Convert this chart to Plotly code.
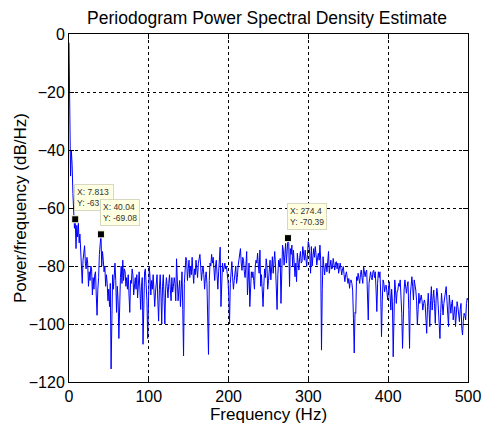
import numpy as np
import plotly.graph_objects as go

fs = 1000.0
nfft = 1024

psd_db = [
    -3, -40, -49, -40, -45, -55, -63, -67, -63.89, -74, -66, -70, -65, -72, -69, -77,
    -84, -86, -78, -75, -73, -79, -81, -77, -79, -87, -82, -85, -80, -81, -90, -84,
    -88, -83, -82, -90, -97, -88, -84, -76, -72, -69.08, -80, -75, -78, -82, -80, -87,
    -83, -86, -92, -88, -94, -86, -115.5, -90, -83, -88, -82, -79, -85, -96, -87, -92,
    -105, -88, -84, -80, -86, -78, -85, -81, -82, -87, -84, -88, -83, -90, -96, -85,
    -86, -81, -83, -90, -86, -84, -88, -83, -91, -85, -82, -88, -95, -87, -84, -107,
    -88, -82, -81, -85, -92, -105, -86, -80, -84, -90, -85, -88, -83, -87, -94, -89,
    -86, -83, -92, -99, -88, -83, -90, -100, -87, -83, -91, -100, -88, -84, -87, -91,
    -86, -83, -88, -92, -84, -89, -87, -84, -86, -92, -77.5, -83, -92, -88, -85, -94,
    -89, -82, -95, -111, -86, -79, -77, -78, -85, -81, -78, -84, -80, -83, -77, -82,
    -86, -81, -83, -78, -81, -84, -79, -77, -76, -80, -85, -82, -80, -83, -88, -84,
    -82, -86, -96, -110.5, -85, -79, -80, -76, -79, -77, -81, -85, -80, -78, -83, -88,
    -82, -76, -73.5, -94, -83, -79, -82, -80, -79, -81, -80, -82.5, -85, -90, -100, -86,
    -80, -78.5, -84, -88, -85, -83, -80, -86, -84, -80, -77.5, -76, -74, -79, -81.5, -77,
    -78, -82, -84, -80, -75, -90, -84, -79, -94, -86, -82, -84, -82, -85, -88, -80,
    -78, -79, -75.6, -80, -82.5, -74.5, -87, -83, -89, -94, -87, -81, -84, -77.5, -80, -88,
    -85, -80, -78, -84.8, -79, -76.8, -82.5, -79, -75, -80, -88, -95, -83, -78, -80, -77.4,
    -92.9, -80, -72.8, -74.5, -79.7, -76, -72.2, -79, -73, -70.39, -72.2, -87.1, -74, -76, -72.8, -80.2,
    -74.5, -78, -83.7, -79, -85.4, -75.6, -78, -81.4, -77, -75, -79, -78.5, -73.3, -77, -78, -74.5,
    -77, -80.2, -76, -71.6, -72.8, -76, -82.5, -73.3, -80, -76, -74, -77, -73.3, -76, -79.7, -77,
    -75.6, -78, -72.8, -78, -109, -88, -76.8, -80, -83.1, -80, -79, -82, -77, -75, -82.5, -80,
    -78, -81, -80.8, -77.4, -80, -81.4, -79, -78.5, -81, -79, -82.5, -80, -79, -81, -83.1, -81,
    -80.2, -83, -85.4, -83, -82, -84, -86, -84.3, -87.7, -85, -84.8, -86, -88.3, -98, -110, -96,
    -96.3, -83.7, -85, -82.5, -84, -86, -83, -81.4, -84, -86, -80.2, -82, -83.7, -82, -81.4, -90,
    -98.6, -86, -82.5, -82, -84, -84.8, -82, -81.5, -84, -82, -88, -95.7, -86, -82, -84, -82,
    -90, -104.4, -92, -84.8, -86, -88.9, -87, -86.6, -89, -91.7, -88, -85.4, -90, -95.2, -88, -92.3,
    -111.3, -92, -84.8, -88, -92.9, -89, -88.3, -86, -87, -84.8, -90, -96.3, -108.4, -92, -88.3, -84.8,
    -87, -89.4, -87, -85.4, -95, -108.4, -90, -86, -83.7, -87, -91.7, -84.8, -86, -88.3, -92, -100.3,
    -95, -89.4, -92.9, -91, -90, -92, -95.2, -93, -91.7, -93, -98, -103.2, -94, -89.4, -95, -100.9,
    -92, -87.1, -95.2, -91, -88.3, -93, -99.8, -92, -87.7, -90, -94, -99, -105, -96, -89.4, -93,
    -96.9, -93, -90.6, -89, -87.1, -92, -97, -100.9, -90, -93, -96.3, -93, -91.7, -98.6, -95, -94,
    -100.9, -96, -92.3, -94, -96.9, -99.2, -95, -92.9, -101.5, -103.8, -99, -96.3, -97, -98.6, -93, -91.1, -91.7,
]

freq = np.arange(len(psd_db)) * fs / nfft

tip_index = [8, 41, 281]
tip_x_text = ["7.813", "40.04", "274.4"]
tip_y_text = ["-63.89", "-69.08", "-70.39"]

x_ticks = [0, 100, 200, 300, 400, 500]
y_ticks = [0, -20, -40, -60, -80, -100, -120]

FONT = "Liberation Sans"

fig = go.Figure()
fig.add_trace(go.Scatter(x=freq, y=psd_db, mode="lines",
                         line=dict(color="#0000FF", width=1), hoverinfo="skip"))

tip_x = [freq[i] for i in tip_index]
tip_y = [psd_db[i] for i in tip_index]
fig.add_trace(go.Scatter(x=tip_x, y=tip_y, mode="markers",
                         marker=dict(symbol="square", size=7, color="black",
                                     line=dict(color="#FFFFE1", width=1)),
                         hoverinfo="skip"))

for tx, ty, xs, ys in zip(tip_x, tip_y, tip_x_text, tip_y_text):
    fig.add_annotation(x=tx, y=ty, xref="x", yref="y", showarrow=False,
                       text=f"X: {xs}<br>Y: {ys}", align="left",
                       xanchor="left", yanchor="bottom", xshift=-1, yshift=8,
                       font=dict(family=FONT, size=8.5, color="#333333"),
                       bgcolor="#FFFFE1", bordercolor="#D8D8C0", borderwidth=1,
                       borderpad=2)

# y-axis label placed as rotated text left of the tick labels
fig.add_annotation(text="Power/frequency (dB/Hz)", xref="paper", yref="paper",
                   x=0, y=0.5, xanchor="center", yanchor="middle", xshift=-49,
                   textangle=-90, showarrow=False,
                   font=dict(family=FONT, size=17, color="black"))

axis_common = dict(showline=True, linecolor="black", linewidth=1, mirror="ticks",
                   ticks="inside", ticklen=5, tickcolor="black", automargin=False,
                   showgrid=True, gridcolor="black", gridwidth=1, griddash="3px,3px",
                   zeroline=False, tickfont=dict(family=FONT, size=16, color="black"))

fig.update_xaxes(range=[0, 500], tickvals=x_ticks,
                 title=dict(text="Frequency (Hz)", font=dict(family=FONT, size=17, color="black"), standoff=2),
                 **axis_common)
fig.update_yaxes(range=[-120, 0], tickvals=y_ticks, **axis_common)

fig.update_layout(
    width=484, height=427,
    margin=dict(l=69, r=16, t=34, b=45),
    paper_bgcolor="white", plot_bgcolor="white",
    showlegend=False,
    title=dict(text="Periodogram Power Spectral Density Estimate",
               font=dict(family=FONT, size=17.5, color="black"),
               x=0.5517, xanchor="center", y=0.957, yanchor="middle"),
)

fig.write_html("out.html")
